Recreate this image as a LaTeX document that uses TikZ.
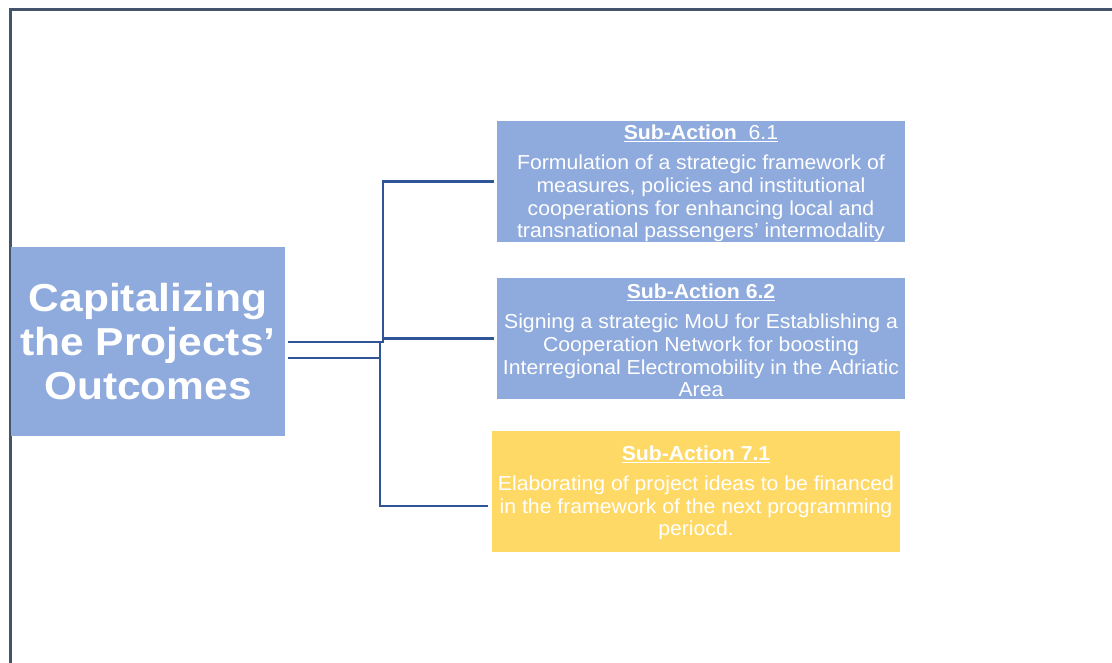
\documentclass[tikz,border=0pt]{standalone}
\usepackage{fontspec}
\setmainfont{Liberation Sans}
\newfontfamily\smallfam[FakeStretch=1.05]{Liberation Sans}
\newfontfamily\bigfam[FakeStretch=1.09]{Liberation Sans}
\definecolor{boxblue}{HTML}{8FAADC}
\definecolor{boxyellow}{HTML}{FFD966}
\definecolor{connblue}{HTML}{2F5597}
\definecolor{framegray}{HTML}{44546A}
\tikzset{
  subbox/.style={fill=#1, draw=none, minimum width=408pt, minimum height=121pt, inner sep=0pt},
  subtext/.style={inner sep=0pt, text=white, align=center, font=\smallfam\fontsize{20.2}{22.6}\selectfont},
  mainbox/.style={fill=boxblue, draw=none, minimum width=274pt, minimum height=189pt, inner sep=0pt,
    text=white, align=center, font=\bigfam\bfseries\fontsize{39}{44}\selectfont},
  conn/.style={draw=connblue, line width=2.6pt},
  framel/.style={draw=framegray, line width=3pt}
}
\newcommand{\ttl}[1]{\underline{#1}}
\begin{document}
\begin{tikzpicture}[x=1pt,y=-1pt]
\useasboundingbox (0,0) rectangle (1112,663);
\draw[framel] (10,663) -- (10,10) -- (1112,10);
\node[mainbox] (main) at (148,341.5) {Capitalizing\\the Projects’\\Outcomes};
\node[subbox=boxblue] (s61) at (701,181.5) {};
\node[subtext] (s61t) at ([yshift=-2pt]s61.center) {\ttl{\textbf{Sub-Action}~~6.1}\\[7.5pt]Formulation of a strategic framework of\\measures, policies and institutional\\cooperations for enhancing local and\\transnational passengers’ intermodality};
\node[subbox=boxblue] (s62) at (701,338.5) {};
\node[subtext] (s62t) at ([yshift=-2pt]s62.center) {\ttl{\textbf{Sub-Action 6.2}}\\[7.5pt]Signing a strategic MoU for Establishing a\\Cooperation Network for boosting\\Interregional Electromobility in the Adriatic\\Area};
\node[subbox=boxyellow] (s71) at (696,491) {};
\node[subtext] (s71t) at ([yshift=-2pt]s71.center) {\ttl{\textbf{Sub-Action 7.1}}\\[7.5pt]Elaborating of project ideas to be financed\\in the framework of the next programming\\periocd.};
\coordinate (b1) at (383,342);
\coordinate (b2) at (380,358);
\coordinate (b3) at (380,342);
\draw[conn] ([xshift=3pt]main.east |- b1) -- (b1) |- ([xshift=-3pt]s61.west);
\draw[conn] (b1) |- ([xshift=-3pt]s62.west);
\draw[conn] ([xshift=3pt]main.east |- b2) -- (b2);
\draw[conn] (b3) |- ([xshift=-4pt,yshift=-15pt]s71.west);
\end{tikzpicture}
\end{document}
